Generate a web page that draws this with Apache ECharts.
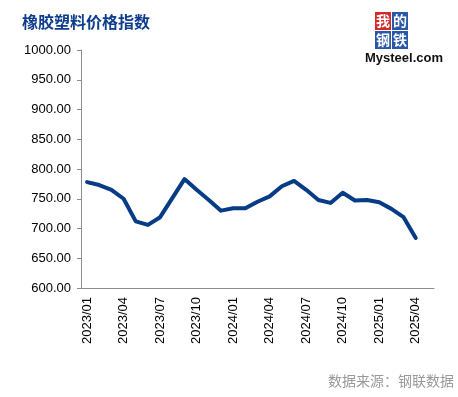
<!DOCTYPE html>
<html>
<head>
<meta charset="utf-8">
<script src="https://cdn.jsdelivr.net/npm/echarts@6/dist/echarts.min.js"></script>
<style>
  html, body { margin: 0; padding: 0; background: #fff; }
  #chart { width: 458px; height: 397px; }
</style>
</head>
<body>
<div id="chart"></div>
<script>
// 月份类目（2025/05 留空）
const months = [
  '2023/01', '2023/02', '2023/03', '2023/04', '2023/05', '2023/06',
  '2023/07', '2023/08', '2023/09', '2023/10', '2023/11', '2023/12',
  '2024/01', '2024/02', '2024/03', '2024/04', '2024/05', '2024/06',
  '2024/07', '2024/08', '2024/09', '2024/10', '2024/11', '2024/12',
  '2025/01', '2025/02', '2025/03', '2025/04', '2025/05'
];
// 橡胶塑料价格指数
const indexValues = [
  778, 773, 765, 750, 712, 706, 719, 751, 783, 765, 748, 730,
  734, 734, 745, 754, 771, 780, 765, 748, 743, 760, 747, 748,
  744, 733, 719, 684
];
// y轴刻度
const yMin = 600;
const yMax = 1000;
const yStep = 50;

const titleText = '橡胶塑料价格指数';
const sourceText = '数据来源：钢联数据';

const myChart = echarts.init(document.getElementById('chart'));

const font = '"Liberation Sans", Arial, sans-serif';
const axisColor = '#8c8c8c';

const option = {
  backgroundColor: '#fff',
  animation: false,
  grid: { left: 81, right: 24, top: 50, bottom: 109, containLabel: false },
  xAxis: {
    type: 'category',
    data: months,
    boundaryGap: true,
    axisLine: { lineStyle: { color: axisColor, width: 1 } },
    axisTick: { interval: 2, length: 5, lineStyle: { color: axisColor } },
    axisLabel: {
      interval: 2,
      rotate: 90,
      margin: 9,
      color: '#000',
      fontSize: 13,
      fontFamily: font
    },
    splitLine: { show: false }
  },
  yAxis: {
    type: 'value',
    min: yMin,
    max: yMax,
    interval: yStep,
    axisLine: { show: true, lineStyle: { color: axisColor, width: 1 } },
    axisTick: { show: true, length: 4, lineStyle: { color: axisColor } },
    axisLabel: {
      margin: 10,
      color: '#000',
      fontSize: 13,
      fontFamily: font,
      formatter: v => v.toFixed(2)
    },
    splitLine: { show: false }
  },
  series: [{
    type: 'line',
    data: indexValues,
    symbol: 'none',
    lineStyle: { color: '#063b85', width: 4, join: 'round', cap: 'round' }
  }],
  graphic: [
    // 标题
    {
      type: 'text', left: 22, top: 14,
      style: {
        text: titleText, fill: '#0d3d8c',
        font: 'bold 16px "Noto Sans CJK SC", sans-serif'
      }
    },
    // 我的钢铁 logo
    { type: 'rect', shape: { x: 375, y: 12, width: 16, height: 18 }, style: { fill: '#d42a2a' } },
    { type: 'rect', shape: { x: 392, y: 12, width: 16, height: 18 }, style: { fill: '#2a57a8' } },
    { type: 'rect', shape: { x: 375, y: 31, width: 16, height: 18 }, style: { fill: '#2a57a8' } },
    { type: 'rect', shape: { x: 392, y: 31, width: 16, height: 18 }, style: { fill: '#2a57a8' } },
    { type: 'text', x: 383, y: 21, style: { text: '我', fill: '#fff', font: 'bold 14px "Noto Sans CJK SC"', align: 'center', verticalAlign: 'middle' } },
    { type: 'text', x: 400, y: 21, style: { text: '的', fill: '#fff', font: 'bold 14px "Noto Sans CJK SC"', align: 'center', verticalAlign: 'middle' } },
    { type: 'text', x: 383, y: 40, style: { text: '钢', fill: '#fff', font: 'bold 14px "Noto Sans CJK SC"', align: 'center', verticalAlign: 'middle' } },
    { type: 'text', x: 400, y: 40, style: { text: '铁', fill: '#fff', font: 'bold 14px "Noto Sans CJK SC"', align: 'center', verticalAlign: 'middle' } },
    {
      type: 'text', x: 365, y: 58,
      style: {
        text: 'Mysteel.com', fill: '#111',
        font: 'bold 13px "Liberation Sans", Arial, sans-serif',
        verticalAlign: 'middle'
      }
    },
    // 数据来源
    {
      type: 'text', right: 4, top: 374,
      style: {
        text: sourceText, fill: '#999',
        font: '14px "Noto Sans CJK SC", sans-serif'
      }
    }
  ]
};

myChart.setOption(option);
</script>
</body>
</html>
